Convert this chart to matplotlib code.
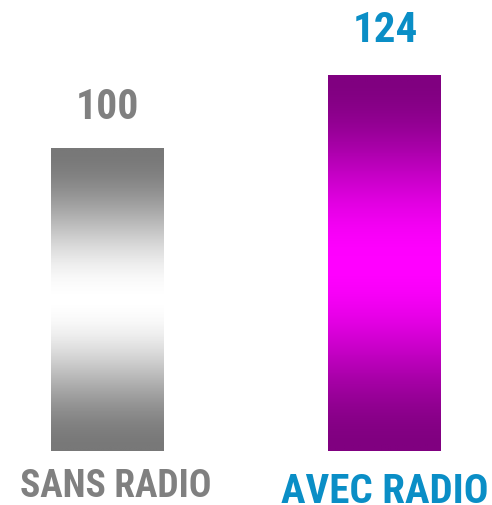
import matplotlib
matplotlib.use('Agg')
from matplotlib import pyplot as plt
from matplotlib.colors import LinearSegmentedColormap
import numpy as np

# data
categories = ['SANS RADIO', 'AVEC RADIO']
values = [100, 124]
value_labels = ['100', '124']

# styles
grad_colors = [['#787878', '#ffffff'],
               ['#800080', '#ff00ff']]
text_colors = ['#808080', '#0a8ec6']
value_sizes = [30, 31]
cat_sizes = [27, 29.5]
value_offsets = [21.6, 24.5]
cat_offsets = [32.4, 36.7]
cat_dx = [5.8, 0]

# condensed bold font, falls back to Liberation Sans
plt.rcParams['font.family'] = ['Roboto Condensed', 'Liberation Sans', 'DejaVu Sans']

fig = plt.figure(figsize=(4.92, 5.06), dpi=100)
ax = fig.add_axes([0, 0, 1, 1])
ax.set_xlim(-0.387, 1.386)
ax.set_ylim(-17.8, 149.2)
ax.axis('off')

x = np.arange(len(categories))
bars = ax.bar(x, values, width=0.407, color='none', edgecolor='none')

# smooth dark-light-dark shading along the bar height
t = np.linspace(0, 1, 512)
grad = (0.5 - 0.5 * np.cos(2 * np.pi * t)).reshape(-1, 1)
for i, b in enumerate(bars):
    cmap = LinearSegmentedColormap.from_list('g%d' % i, grad_colors[i])
    x0 = b.get_x()
    w = b.get_width()
    h = b.get_height()
    im = ax.imshow(grad, cmap=cmap, aspect='auto', extent=[x0, x0 + w, 0, h],
                   origin='lower', interpolation='bilinear', zorder=2)
    im.set_clip_path(b)

    # value label above the bar
    ax.annotate(value_labels[i], (x[i], h), xytext=(0, value_offsets[i]),
                textcoords='offset points', ha='center', va='baseline',
                fontsize=value_sizes[i], fontweight='bold', color=text_colors[i])
    # category label under the bar
    ax.annotate(categories[i], (x[i], 0), xytext=(cat_dx[i], -cat_offsets[i]),
                textcoords='offset points', ha='center', va='baseline',
                fontsize=cat_sizes[i], fontweight='bold', color=text_colors[i])

fig.savefig('out.png', dpi=100)
